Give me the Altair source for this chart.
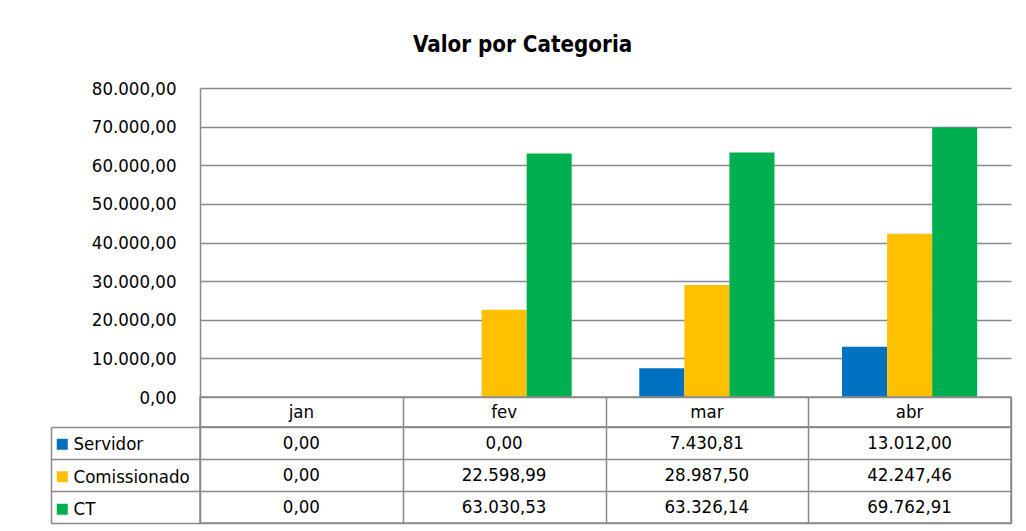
import altair as alt
import pandas as pd

months = ["jan", "fev", "mar", "abr"]
series = ["Servidor", "Comissionado", "CT"]
servidor = [0.00, 0.00, 7430.81, 13012.00]
comissionado = [0.00, 22598.99, 28987.50, 42247.46]
ct = [0.00, 63030.53, 63326.14, 69762.91]
colors = ["#0070C0", "#FFC000", "#00B050"]
y_ticks = [0, 10000, 20000, 30000, 40000, 50000, 60000, 70000, 80000]

rows = []
for name, vals in zip(series, [servidor, comissionado, ct]):
    for m, v in zip(months, vals):
        rows.append({"month": m, "series": name, "value": v})
df = pd.DataFrame(rows)
hdr_df = pd.DataFrame({"month": months})

FONT = "DejaVu Sans Condensed"
FS = 18.5
LINE = "#8a8a8a"
LW = 1.5
W = 811

top = alt.Chart(df).mark_bar().encode(
    x=alt.X("month:N", sort=months, axis=None,
            scale=alt.Scale(paddingInner=1/3, paddingOuter=1/6)),
    xOffset=alt.XOffset("series:N", sort=series,
                        scale=alt.Scale(paddingInner=0, paddingOuter=0)),
    y=alt.Y("value:Q", scale=alt.Scale(domain=[0, 80000], nice=False),
            axis=alt.Axis(values=y_ticks, format=",.2f", title=None, ticks=False,
                          labelPadding=24, labelFont=FONT, labelFontSize=FS,
                          labelColor="#000000", domain=True, domainColor=LINE,
                          domainWidth=LW, grid=True, gridColor=LINE, gridWidth=LW)),
    color=alt.Color("series:N", sort=series,
                    scale=alt.Scale(domain=series, range=colors), legend=None),
).properties(width=W, height=309, view=alt.ViewBackground(stroke="transparent"))

hdr = alt.Chart(hdr_df).mark_text(font=FONT, fontSize=FS, color="#000000").encode(
    x=alt.X("month:N", sort=months,
            scale=alt.Scale(paddingInner=0, paddingOuter=0),
            axis=alt.Axis(title=None, labels=False, ticks=False, domain=False,
                          grid=True, tickBand="extent", gridColor=LINE, gridWidth=LW)),
    text="month:N",
).properties(width=W, height=30)

cells = alt.Chart(df).mark_text(font=FONT, fontSize=FS, color="#000000").encode(
    x=alt.X("month:N", sort=months,
            scale=alt.Scale(paddingInner=0, paddingOuter=0),
            axis=alt.Axis(title=None, labels=False, ticks=False, domain=False,
                          grid=True, tickBand="extent", gridColor=LINE, gridWidth=LW)),
    y=alt.Y("series:N", sort=series,
            scale=alt.Scale(paddingInner=0, paddingOuter=0),
            axis=alt.Axis(title=None, labels=False, ticks=True, tickSize=149,
                          tickBand="extent", tickColor=LINE, tickWidth=LW,
                          domain=False, grid=True, gridColor=LINE, gridWidth=LW)),
    text=alt.Text("value:Q", format=",.2f"),
)

keys = alt.Chart(df).mark_square(opacity=0).encode(
    y=alt.Y("series:N", sort=series,
            axis=alt.Axis(orient="left", offset=149, title=None, labels=False,
                          ticks=False, domain=True, domainColor=LINE,
                          domainWidth=LW, grid=False)),
    color=alt.Color("series:N", sort=series,
                    scale=alt.Scale(domain=series, range=colors),
                    legend=alt.Legend(orient="none", legendX=-147, legendY=8,
                                      title=None, symbolType="square",
                                      symbolSize=121, symbolStrokeWidth=0,
                                      symbolOpacity=1, labelFont=FONT,
                                      labelFontSize=FS, labelColor="#000000",
                                      labelOffset=2, rowPadding=13.5, padding=0)),
)

body = alt.layer(cells, keys).resolve_axis(y="independent").properties(width=W, height=96)

chart = alt.vconcat(top, hdr, body, spacing=0, bounds="flush").resolve_scale(
    x="independent", y="independent", color="independent"
).properties(
    title=alt.Title("Valor por Categoria", font=FONT, fontSize=22.2, fontWeight="bold",
                    color="#000000", anchor="middle", frame="bounds", dx=-8, offset=22),
    padding={"left": 41, "top": 26, "right": 5, "bottom": 5},
).configure(
    locale={"number": {"decimal": ",", "thousands": ".", "grouping": [3],
                       "currency": ["R$ ", ""]}}
).configure_view(stroke=LINE, strokeWidth=LW)

chart.save("out.html", embed_options={"renderer": "svg", "actions": False})
